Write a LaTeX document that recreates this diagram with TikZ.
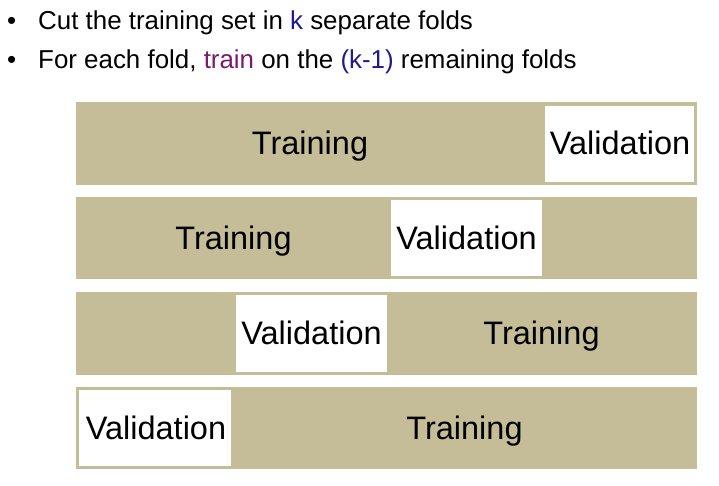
\documentclass[tikz,border=0pt]{standalone}
\usepackage{fontspec}
\setmainfont{Liberation Sans}
\definecolor{tan}{RGB}{196,189,151}
\definecolor{kblue}{RGB}{31,27,140}
\definecolor{kpurple}{RGB}{122,26,110}
\begin{document}
\begin{tikzpicture}[x=1pt,y=-1pt,
  bar/.style={fill=tan,draw=none},
  valbox/.style={fill=white,draw=none},
  big/.style={font=\fontsize{32.5}{37}\selectfont,anchor=base,inner sep=0pt},
  bul/.style={font=\fontsize{25.9}{30}\selectfont,anchor=base west,inner sep=0pt}]
\useasboundingbox (0,0) rectangle (719,485);
% bullets
\node[bul] (b1) at (7,29) {•};
\node[bul] (t1) at (38,29) {Cut the training set in \textcolor{kblue}{k} separate folds};
\node[bul] (b2) at (7,68) {•};
\node[bul] (t2) at (38,68) {For each fold, \textcolor{kpurple}{train} on the \textcolor{kblue}{(k-1)} remaining folds};
% bar 1
\fill[bar] (76,102) rectangle (697,185);
\fill[valbox] (545,106) rectangle (694,182);
\node[big] (tr1) at (310,154.5) {Training};
\node[big] (va1) at (620,154.5) {Validation};
% bar 2
\fill[bar] (76,197) rectangle (697,279);
\fill[valbox] (391,200) rectangle (542,276);
\node[big] (tr2) at (233.5,249) {Training};
\node[big] (va2) at (466.5,249) {Validation};
% bar 3
\fill[bar] (76,292) rectangle (697,375);
\fill[valbox] (236,295) rectangle (387,372);
\node[big] (tr3) at (541.5,344.5) {Training};
\node[big] (va3) at (311.5,344.5) {Validation};
% bar 4
\fill[bar] (76,387) rectangle (697,469);
\fill[valbox] (79,390) rectangle (231,466);
\node[big] (tr4) at (464.5,439) {Training};
\node[big] (va4) at (156,439) {Validation};
\end{tikzpicture}
\end{document}
